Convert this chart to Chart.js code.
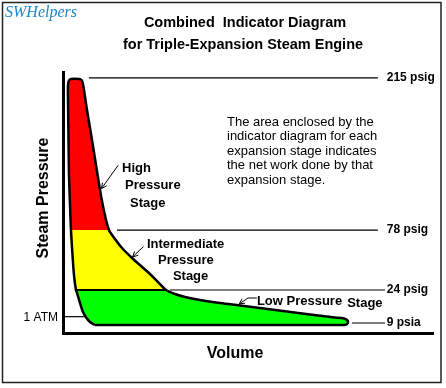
<!DOCTYPE html>
<html>
<head>
<meta charset="utf-8">
<script src="https://cdn.jsdelivr.net/npm/chart.js@4.4.1/dist/chart.umd.min.js"></script>
<style>
  html, body { margin: 0; padding: 0; background: #fff; }
  #wrap { width: 446px; height: 388px; }
</style>
</head>
<body>
<div id="wrap"><canvas id="chart" width="446" height="388"></canvas></div>
<script>
// indicator loop: volume in % of x-axis, pressure in psia
// goes up the compression side, over the top, down the expansion side and back along the bottom
const loopVolume = [8.65, 7.3, 6.35, 5.4, 4.6, 3.8, 3.5, 2.97, 2.57, 2.16, 1.89, 1.62, 1.49, 1.35, 1.35, 1.62, 2.16, 4.32, 5.0, 5.4,
  6.49, 7.84, 8.92, 10.0, 11.08, 12.43, 14.05, 15.95, 18.65, 21.08, 23.51, 25.68, 27.84, 30.27, 32.97, 37.03, 42.43, 47.84,
  53.24, 59.46, 66.76, 73.51, 75.95, 76.76, 77.03, 76.76, 75.95];
const loopPsia = [7.2, 9.9, 13.5, 18.9, 27.0, 36.0, 38.7, 52.2, 70.2, 92.7, 115.3, 142.3, 173.8, 209.8, 223.3, 227.4, 228.7, 228.7, 227.8, 224.2,
  200.8, 173.8, 151.3, 128.8, 109.9, 92.7, 84.6, 76.5, 67.5, 60.3, 53.1, 45.9, 38.7, 35.1, 32.4, 29.7, 27.0, 24.8,
  22.5, 19.8, 16.7, 14.0, 13.1, 11.7, 9.9, 8.1, 7.2];

// stage pressure bands (psia)
const stageTop = [Infinity, 92.7, 38.7];
const stageBottom = [92.7, 38.7, -Infinity];
const stageColors = ["#ff0000", "#ffff00", "#00ff00"];

// reference pressure lines
const refLabels = ["215 psig", "78 psig", "24 psig", "9 psia", "1 ATM"];
const refPsia = [229.7, 92.7, 38.7, 9, 14.7];
const refFromVol = [7.0, 14.6, 28.9, 78.1, 0];
const refToVol = [85.1, 85.1, 87.0, 87.0, 5.9];

// stage callouts: arrow points (volume, psia)
const arrowVol = [[14.9, 10.4], [21.76, 18.8], [52.4, 50.0, 47.6]];
const arrowPsia = [[151.0, 130.0], [77.9, 68.4], [31.5, 31.5, 26.1]];
const calloutText = ["High", "Pressure", "Stage", "Intermediate", "Pressure", "Stage", "Low Pressure", "Stage"];
const calloutVol = [15.95, 16.76, 18.1, 22.7, 25.7, 29.7, 52.4, 76.8];
const calloutPsia = [148.6, 133.3, 117.1, 80.1, 65.7, 51.3, 28.8, 26.3];

const noteLines = [
  "The area enclosed by the",
  "indicator diagram for each",
  "expansion stage indicates",
  "the net work done by that",
  "expansion stage."
];

const loopPts = loopVolume.map((v, i) => ({ x: v, y: loopPsia[i] }));

function band(lo, hi) {
  return loopPts.filter(p => p.y >= lo && p.y <= hi);
}

const datasets = [];
stageColors.forEach((c, i) => {
  datasets.push({
    data: band(stageBottom[i], stageTop[i]),
    showLine: true,
    fill: "shape",
    backgroundColor: c,
    borderWidth: 0,
    borderColor: "rgba(0,0,0,0)",
    pointRadius: 0,
    tension: 0.3,
    order: 5
  });
});

// low pressure stage top edge
const lpEdge = loopPts.filter(p => p.y === stageTop[2]);
datasets.push({
  data: lpEdge, showLine: true, fill: false, borderColor: "#000", borderWidth: 2.2, pointRadius: 0, order: 2
});

// outline of the whole loop
datasets.push({
  data: loopPts.concat([loopPts[0]]),
  showLine: true, fill: false, borderColor: "#000", borderWidth: 2.5,
  borderJoinStyle: "round", pointRadius: 0, tension: 0.3, order: 1
});

refPsia.forEach((p, i) => {
  datasets.push({
    data: [{ x: refFromVol[i], y: p }, { x: refToVol[i], y: p }],
    showLine: true, fill: false, borderColor: "#000", borderWidth: 1.2, pointRadius: 0, order: 3
  });
});

const notes = {
  id: "notes",
  afterDraw(chart) {
    const { ctx, scales: { x, y } } = chart;
    const px = v => x.getPixelForValue(v);
    const py = p => y.getPixelForValue(p);
    ctx.save();

    // frame
    ctx.strokeStyle = "#222";
    ctx.lineWidth = 1.5;
    ctx.strokeRect(2.5, 2.5, 438.5, 380);

    // logo
    ctx.fillStyle = "#1a86cc";
    ctx.font = "italic 16px 'Liberation Serif'";
    ctx.textAlign = "left";
    ctx.textBaseline = "alphabetic";
    ctx.fillText("SWHelpers", 5, 17);

    // title
    ctx.fillStyle = "#000";
    ctx.textAlign = "center";
    ctx.font = "bold 14.5px 'Liberation Sans'";
    ctx.fillText("Combined  Indicator Diagram", 245, 27);
    ctx.fillText("for Triple-Expansion Steam Engine", 243, 49);

    // axis titles
    ctx.font = "bold 16px 'Liberation Sans'";
    ctx.textBaseline = "middle";
    ctx.fillText("Volume", 235, 354);
    ctx.save();
    ctx.translate(44, 198);
    ctx.rotate(-Math.PI / 2);
    ctx.fillText("Steam Pressure", 0, 0);
    ctx.restore();

    // pressure line labels
    ctx.font = "bold 12px 'Liberation Sans'";
    ctx.textAlign = "left";
    refLabels.forEach((t, i) => {
      if (refFromVol[i] === 0) {
        ctx.font = "12px 'Liberation Sans'";
        ctx.textAlign = "right";
        ctx.fillText(t, px(0) - 5, py(refPsia[i]) + 1);
      } else {
        ctx.fillText(t, px(87.5), py(refPsia[i]));
      }
    });

    // callouts
    ctx.font = "bold 13px 'Liberation Sans'";
    ctx.textAlign = "left";
    calloutText.forEach((t, i) => ctx.fillText(t, px(calloutVol[i]), py(calloutPsia[i])));

    ctx.strokeStyle = "#000";
    ctx.lineWidth = 1;
    arrowVol.forEach((vs, i) => {
      const pts = vs.map((v, j) => [px(v), py(arrowPsia[i][j])]);
      ctx.beginPath();
      pts.forEach((p, j) => j ? ctx.lineTo(p[0], p[1]) : ctx.moveTo(p[0], p[1]));
      const [tx, ty] = pts[pts.length - 1];
      const [fx, fy] = pts[pts.length - 2];
      const a = Math.atan2(ty - fy, tx - fx);
      ctx.moveTo(tx - 6 * Math.cos(a - 0.45), ty - 6 * Math.sin(a - 0.45));
      ctx.lineTo(tx, ty);
      ctx.lineTo(tx - 6 * Math.cos(a + 0.45), ty - 6 * Math.sin(a + 0.45));
      ctx.stroke();
    });

    // explanatory note
    ctx.font = "13px 'Liberation Sans'";
    noteLines.forEach((t, i) => ctx.fillText(t, 227, 122 + i * 14.6));

    ctx.restore();
  }
};

new Chart(document.getElementById("chart"), {
  type: "scatter",
  data: { datasets },
  options: {
    responsive: false,
    animation: false,
    events: [],
    layout: { padding: { left: 63, right: 13, top: 72, bottom: 55 } },
    plugins: { legend: { display: false }, tooltip: { enabled: false } },
    elements: { line: { tension: 0 } },
    scales: {
      x: {
        type: "linear", min: 0, max: 100,
        grid: { display: false, drawTicks: false },
        ticks: { display: false },
        border: { display: true, color: "#000", width: 3 }
      },
      y: {
        type: "linear", min: 0, max: 235,
        grid: { display: false, drawTicks: false },
        ticks: { display: false },
        border: { display: true, color: "#000", width: 3 }
      }
    }
  },
  plugins: [notes]
});
</script>
</body>
</html>
